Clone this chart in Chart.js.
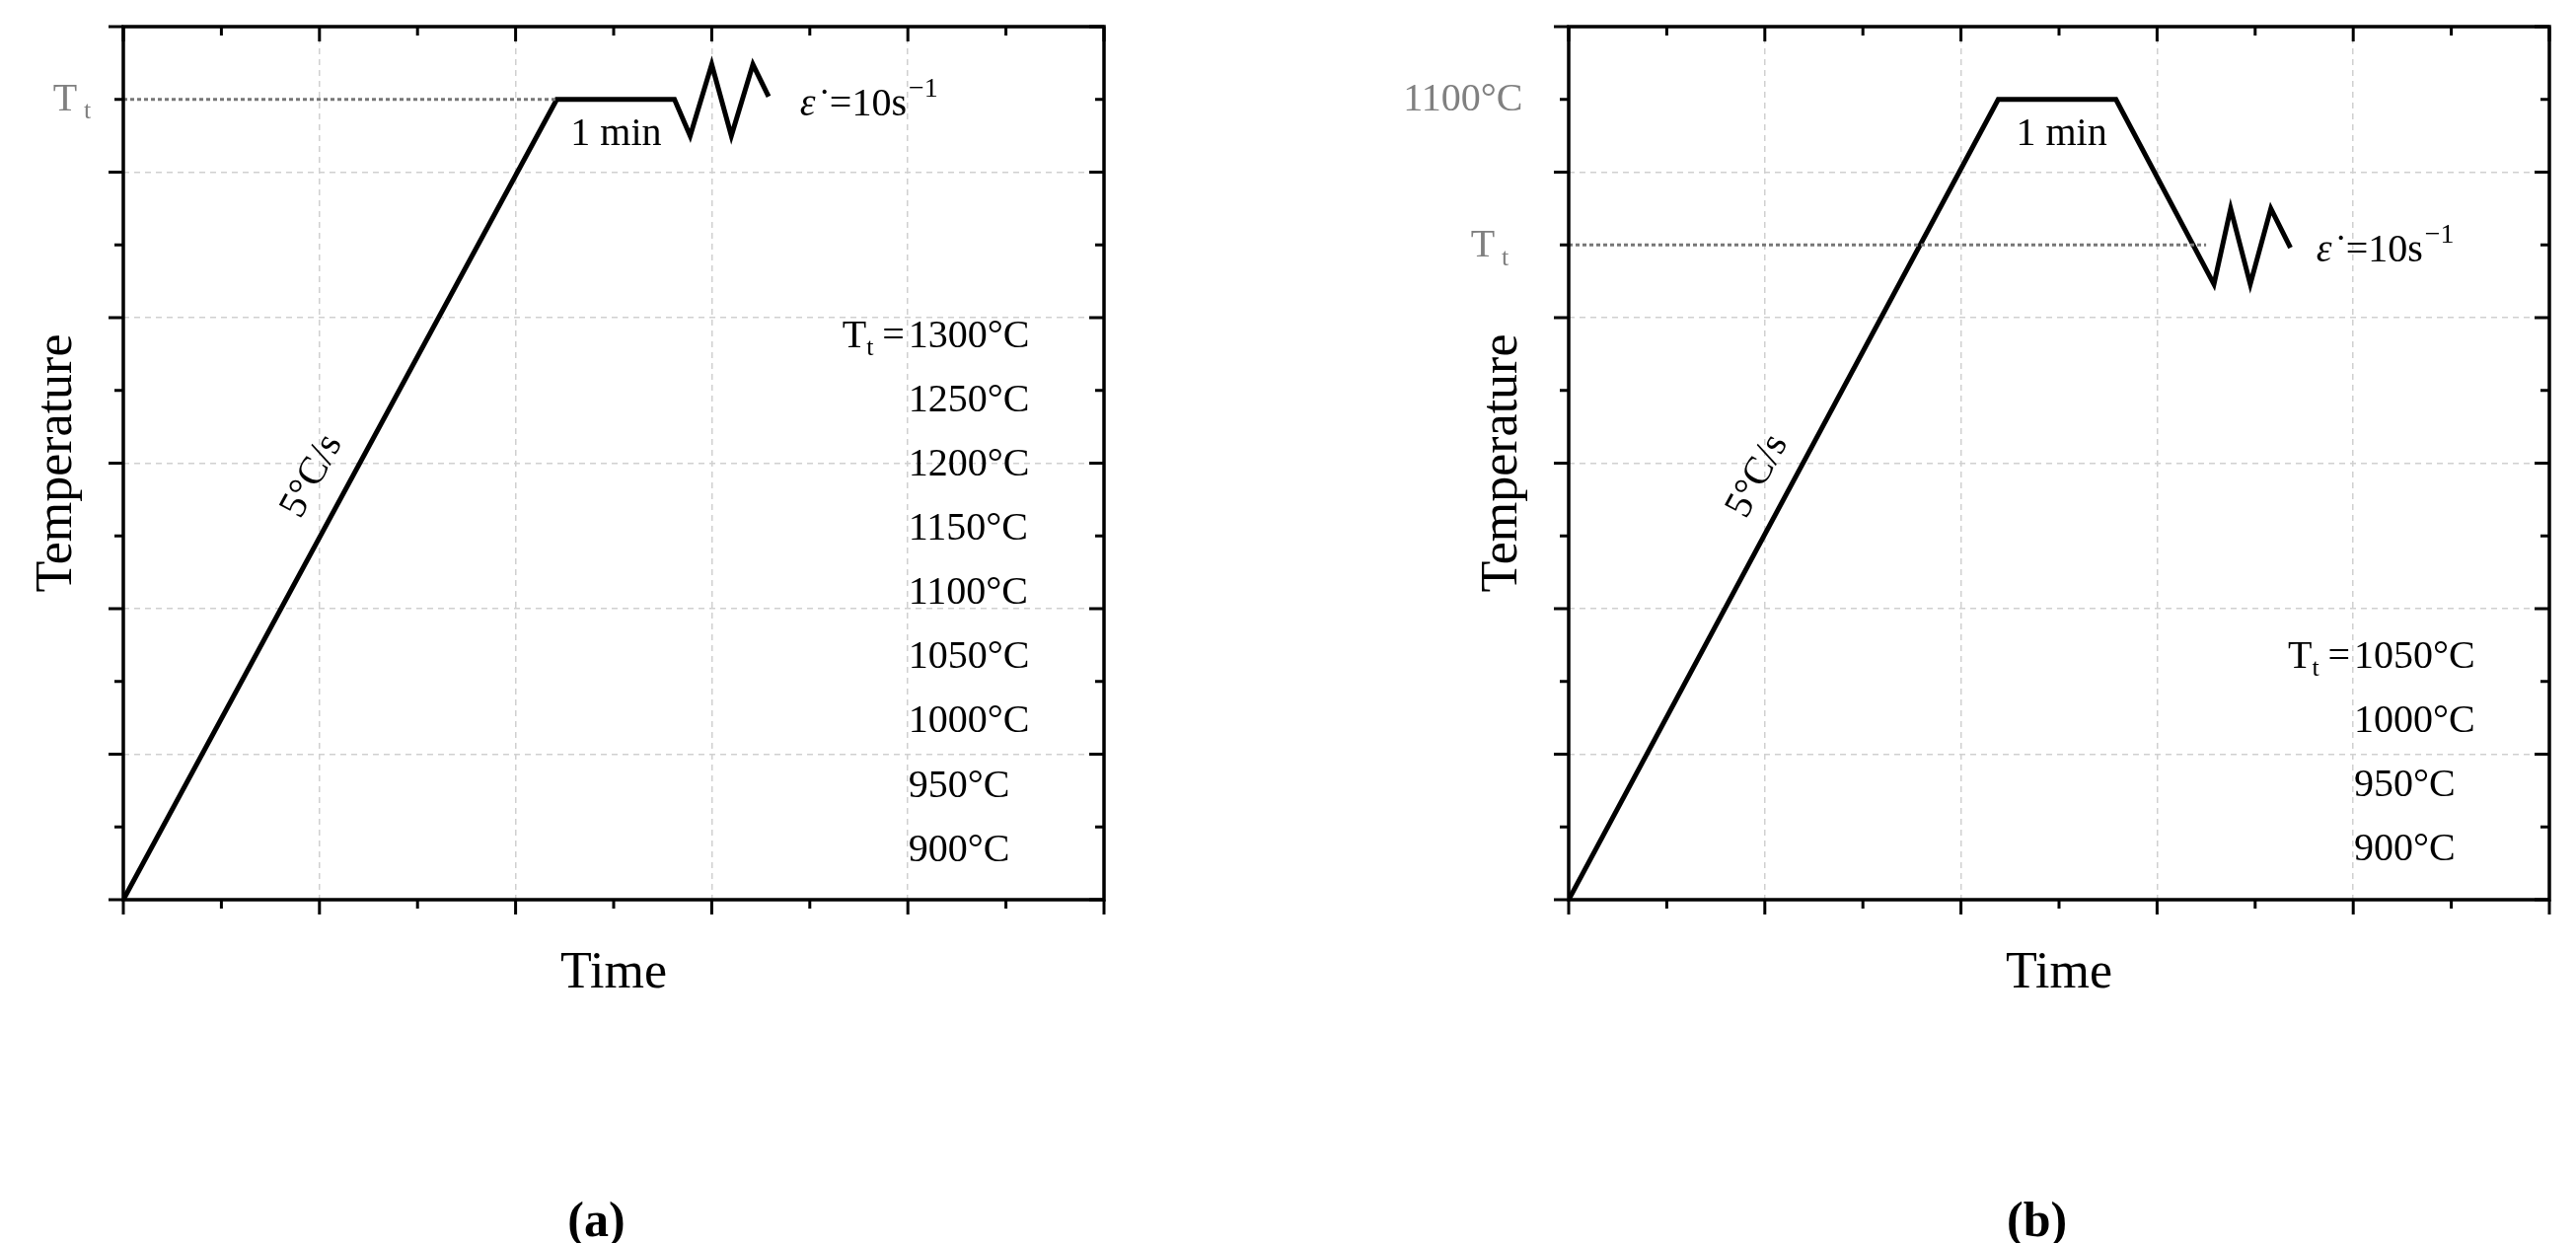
<!DOCTYPE html>
<html><head><meta charset="utf-8">
<script src="https://cdn.jsdelivr.net/npm/chart.js@4"></script>
<style>html,body{margin:0;padding:0;background:#fff;width:2611px;height:1260px;overflow:hidden}
.w{position:absolute;top:0;height:1260px}</style></head>
<body>
<div class="w" style="left:0;width:1300px"><canvas id="ca"></canvas></div>
<div class="w" style="left:1305px;width:1306px"><canvas id="cb"></canvas></div>
<script>
const A_time=[0,2.21,2.81,2.89,3.0,3.1,3.21,3.29];
const A_temp=[0,5.5,5.5,5.25,5.74,5.25,5.74,5.52];
const A_ref_time=[0,2.21], A_ref_temp=[5.5,5.5];
const B_time=[0,2.19,2.79,3.29,3.375,3.475,3.58,3.68];
const B_temp=[0,5.5,5.5,4.23,4.75,4.23,4.75,4.48];
const B_ref_time=[0,3.25], B_ref_temp=[4.5,4.5];
const A_list=['1300°C','1250°C','1200°C','1150°C','1100°C','1050°C','1000°C','950°C','900°C'];
const B_list=['1050°C','1000°C','950°C','900°C'];
const S=1.665, F='"Liberation Serif", "Times New Roman", serif';

function pts(xs,ys){return xs.map((x,i)=>({x,y:ys[i]}));}

function mk(id,off,padL,padR,main,ref,ann){
  const plugin={id:'deco'+id,afterDraw(c){
    const g=c.ctx,a=c.chartArea,xs=c.scales.x,ys=c.scales.y;
    g.save();g.strokeStyle='#000';g.lineWidth=3;
    // ticks
    for(let v=0;v<=5;v+=0.5){const p=xs.getPixelForValue(v),L=(v%1===0)?15:9;
      g.beginPath();g.moveTo(p,a.bottom);g.lineTo(p,a.bottom+L);g.stroke();
      g.beginPath();g.moveTo(p,a.top);g.lineTo(p,a.top+L);g.stroke();}
    for(let v=0;v<=6;v+=0.5){const p=ys.getPixelForValue(v),L=(v%1===0)?15:9;
      g.beginPath();g.moveTo(a.left,p);g.lineTo(a.left-L,p);g.stroke();
      g.beginPath();g.moveTo(a.right,p);g.lineTo(a.right-L,p);g.stroke();}
    g.lineWidth=3.5;g.strokeRect(a.left,a.top,a.right-a.left,a.bottom-a.top);
    const X=d=>d*S-off, Y=d=>d*S;
    g.fillStyle='#000';g.textBaseline='middle';
    // axis titles
    g.font='52px '+F;g.textAlign='center';
    g.fillText('Time',(a.left+a.right)/2,Y(593));
    g.save();g.translate(a.left-67,(a.top+a.bottom)/2);g.rotate(-Math.PI/2);g.fillText('Temperature',0,0);g.restore();
    g.font='bold 50px '+F;g.fillText(ann.panel,X(ann.panelX),Y(745));
    g.font='40px '+F;
    // rotated rate label
    g.save();g.translate(X(ann.rateX),Y(290));g.rotate(-61.4*Math.PI/180);g.fillText('5°C/s',0,0);g.restore();
    g.fillText('1 min',X(ann.minX),Y(82));
    // strain rate
    g.textAlign='left';let ex=X(ann.epsX),ey=Y(ann.epsY);
    g.font='italic 40px '+F;g.fillText('ε̇',ex,ey);
    g.font='40px '+F;g.fillText(' =10s',ex+20,ey);
    let w=g.measureText(' =10s').width;g.font='28px '+F;g.fillText('−1',ex+20+w+2,ey-16);
    // gray labels
    g.fillStyle='#808080';g.textAlign='right';
    ann.gray.forEach(t=>{g.font='40px '+F;g.fillText(t.s,X(t.x),Y(t.y));if(t.sub){g.font='26px '+F;g.fillText('t',X(t.x)+14,Y(t.y)+12);}});
    // list
    g.fillStyle='#000';
    ann.list.forEach((s,i)=>{const y=Y(ann.listY+i*39.1);g.textAlign='left';g.font='40px '+F;g.fillText(s,X(ann.listX),y);
      if(i===0){g.textAlign='right';g.fillText('=',X(ann.listX)-4,y);const ew=g.measureText('=').width;
        g.fillText('T',X(ann.listX)-6-ew-14,y);g.font='26px '+F;g.textAlign='left';g.fillText('t',X(ann.listX)-6-ew-14,y+12);}});
    g.restore();
  }};
  const grid={color:'#d0d0d0',lineWidth:1.5,drawTicks:false};
  return new Chart(document.getElementById(id),{type:'scatter',
    data:{datasets:[
      {data:ref,showLine:true,borderColor:'#777',borderWidth:3,borderDash:[4,3],pointRadius:0},
      {data:main,showLine:true,borderColor:'#000',borderWidth:5,pointRadius:0,tension:0}]},
    options:{responsive:true,maintainAspectRatio:false,animation:false,
      layout:{padding:{left:padL,right:padR,top:27,bottom:348}},
      plugins:{legend:{display:false},tooltip:{enabled:false}},
      scales:{
        x:{type:'linear',min:0,max:5,ticks:{display:false,stepSize:1},grid:{...grid},border:{display:false,dash:[6,5]}},
        y:{type:'linear',min:0,max:6,ticks:{display:false,stepSize:1},grid:{...grid},border:{display:false,dash:[6,5]}}}},
    plugins:[plugin]});
}
Chart.defaults.scale.grid.tickBorderDash=[6,5];
mk('ca',0,125,181,pts(A_time,A_temp),pts(A_ref_time,A_ref_temp),
  {panel:'(a)',panelX:363,rateX:190,minX:375,epsX:487,epsY:64,
   gray:[{s:'T  ',x:57,y:61,sub:0},{s:'',x:0,y:0}].slice(0,0).concat([{s:'T',x:47,y:61,sub:1}]),
   list:A_list,listX:553,listY:205});
mk('cb',1305,285,27,pts(B_time,B_temp),pts(B_ref_time,B_ref_temp),
  {panel:'(b)',panelX:1240,rateX:1070,minX:1255,epsX:1410,epsY:153,
   gray:[{s:'1100°C',x:927,y:61},{s:'T',x:910,y:150,sub:1}],
   list:B_list,listX:1433,listY:400});
// dashed grid
Chart.helpers.each(Chart.instances,c=>{c.options.scales.x.grid.borderDash=[6,5];});
for(const k in Chart.instances){const c=Chart.instances[k];['x','y'].forEach(s=>{c.options.scales[s].grid.tickBorderDash=[6,5];c.options.scales[s].border.dash=[6,5];});c.update();}
</script></body></html>
